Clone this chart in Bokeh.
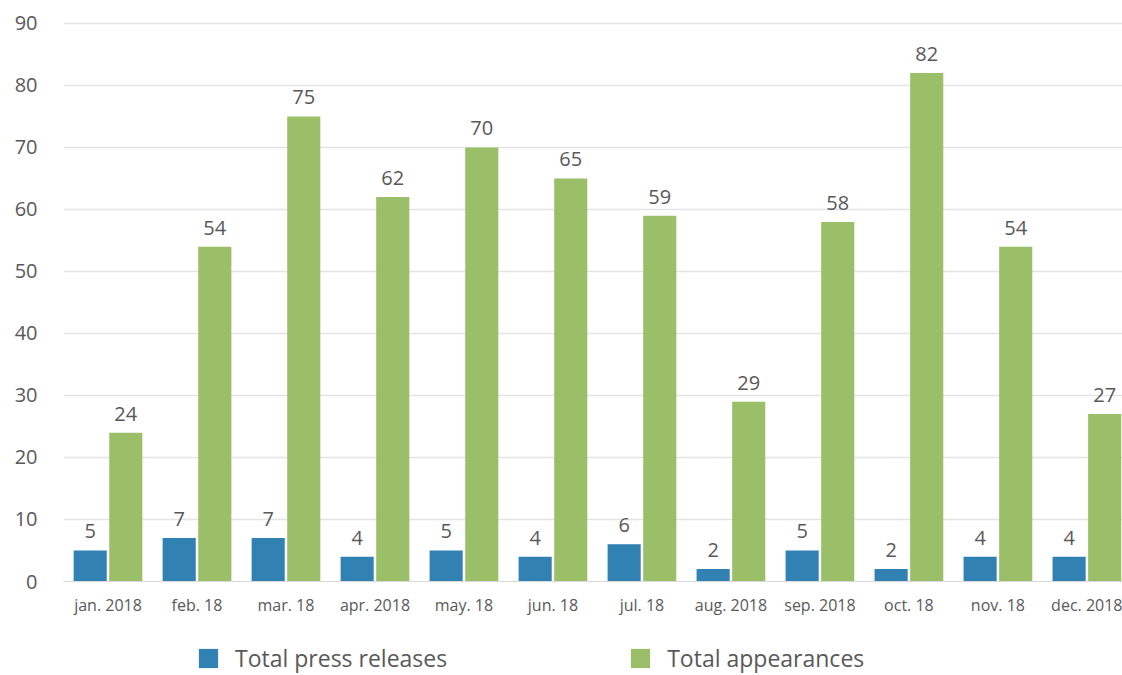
from bokeh.plotting import figure
from bokeh.layouts import column
from bokeh.models import ColumnDataSource, Range1d, LabelSet, Legend, LegendItem, FixedTicker
from bokeh.core.properties import value
from bokeh.embed import file_html
from bokeh.resources import INLINE

months = ["jan. 2018", "feb. 18", "mar. 18", "apr. 2018", "may. 18", "jun. 18",
          "jul. 18", "aug. 2018", "sep. 2018", "oct. 18", "nov. 18", "dec. 2018"]
press_releases = [5, 7, 7, 4, 5, 4, 6, 2, 5, 2, 4, 4]
appearances = [24, 54, 75, 62, 70, 65, 59, 29, 58, 82, 54, 27]
y_ticks = [0, 10, 20, 30, 40, 50, 60, 70, 80, 90]
series_names = ["Total press releases", "Total appearances"]

BLUE = "#3181b2"
GREEN = "#9abf68"
TXT = "#595959"
FONT = "Open Sans"

idx = list(range(len(months)))
src = ColumnDataSource(dict(
    x=idx,
    xb=[i - 0.2 for i in idx],
    xg=[i + 0.2 for i in idx],
    pr=press_releases,
    ap=appearances,
    prt=[str(v) for v in press_releases],
    apt=[str(v) for v in appearances],
))

p = figure(width=1122, height=620, output_backend="svg", toolbar_location=None,
           x_range=Range1d(-0.5, 11.4), y_range=Range1d(0, 91.45),
           min_border_left=63, min_border_right=0, min_border_top=14, min_border_bottom=39)
p.outline_line_color = None
p.background_fill_color = "white"
p.border_fill_color = "white"

r1 = p.vbar(x="xb", top="pr", width=0.372, source=src, fill_color=BLUE, line_color=None)
r2 = p.vbar(x="xg", top="ap", width=0.372, source=src, fill_color=GREEN, line_color=None)

for col_x, col_y, col_t in (("xb", "pr", "prt"), ("xg", "ap", "apt")):
    p.add_layout(LabelSet(x=col_x, y=col_y, text=col_t, source=src, y_offset=12,
                          text_align="center", text_baseline="bottom",
                          text_font=value(FONT), text_font_size=value("20px"),
                          text_color=value(TXT)))

# axes
p.yaxis.ticker = FixedTicker(ticks=y_ticks)
p.yaxis.axis_line_color = None
p.yaxis.major_tick_line_color = None
p.yaxis.minor_tick_line_color = None
p.yaxis.major_label_standoff = 20
p.yaxis.major_label_text_font = FONT
p.yaxis.major_label_text_font_size = "20px"
p.yaxis.major_label_text_color = TXT

p.xaxis.ticker = FixedTicker(ticks=idx)
p.xaxis.major_label_overrides = {i: m for i, m in enumerate(months)}
p.xaxis.axis_line_color = "#d9d9d9"
p.xaxis.major_tick_line_color = None
p.xaxis.minor_tick_line_color = None
p.xaxis.major_label_standoff = 6
p.xaxis.major_label_text_font = FONT
p.xaxis.major_label_text_font_size = "16px"
p.xaxis.major_label_text_color = TXT

p.xgrid.grid_line_color = None
p.ygrid.grid_line_color = "#e4e4e4"
p.ygrid.grid_line_width = 1.5

# legend strip below the chart (swatch glyphs sit outside the visible range)
q = figure(width=1122, height=54, output_backend="svg", toolbar_location=None,
           x_range=Range1d(0, 1), y_range=Range1d(0, 1),
           x_axis_location=None, y_axis_location=None,
           min_border_left=63, min_border_right=0, min_border_top=0, min_border_bottom=0)
q.grid.visible = False
q.outline_line_color = None
q.border_fill_color = "white"
l1 = q.vbar(x=[5], top=[1], width=0.1, fill_color=BLUE, line_color=None)
l2 = q.vbar(x=[5], top=[1], width=0.1, fill_color=GREEN, line_color=None)

legend = Legend(items=[LegendItem(label=series_names[0], renderers=[l1]),
                       LegendItem(label=series_names[1], renderers=[l2])],
                orientation="horizontal", location=(133, 0),
                spacing=181, padding=0, margin=0, border_line_color=None,
                background_fill_alpha=0, glyph_width=24, glyph_height=24,
                label_standoff=15, label_text_font=FONT, label_text_font_size="23px",
                label_text_color=TXT, label_height=24)
q.add_layout(legend, "center")

layout = column(p, q, spacing=0)
open("out.html", "w").write(file_html(layout, INLINE))
